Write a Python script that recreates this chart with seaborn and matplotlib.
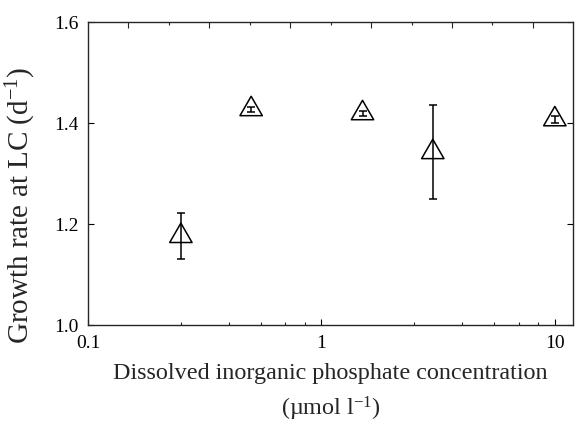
import numpy as np
import pandas as pd
import matplotlib
matplotlib.use("Agg")
import matplotlib.pyplot as plt
from matplotlib.path import Path
from matplotlib.ticker import FixedLocator, NullFormatter, NullLocator
import seaborn as sns

# Data
concentration = [0.25, 0.5, 1.5, 3.0, 10.0]
growth_rate = [1.177, 1.428, 1.420, 1.343, 1.408]
error = [0.0455, 0.005, 0.0045, 0.093, 0.0065]

x_ticks = [0.1, 1, 10]
x_tick_labels = ["0.1", "1", "10"]
x_minor = [0.25, 0.4, 0.55, 0.7, 0.85, 2.5, 4, 5.5, 7, 8.5]
y_ticks = [1.0, 1.2, 1.4, 1.6]
y_tick_labels = ["1.0", "1.2", "1.4", "1.6"]

df = pd.DataFrame({"conc": concentration, "rate": growth_rate, "err": error})

sns.set_style("ticks")
plt.rcParams["font.family"] = ["Liberation Serif", "DejaVu Serif"]
plt.rcParams["mathtext.fontset"] = "custom"
plt.rcParams["mathtext.rm"] = "Liberation Serif"
plt.rcParams["mathtext.it"] = "Liberation Serif:italic"
plt.rcParams["mathtext.default"] = "rm"

fig = plt.figure(figsize=(5.77, 4.23), dpi=100)
ax = fig.add_axes([0.1525, 0.2305, 0.9936 - 0.1525, 0.9473 - 0.2305])

# triangle marker centred on its centroid
s3 = np.sqrt(3) / 2
tri = Path([(0, 1), (-s3, -0.5), (s3, -0.5), (0, 1)],
           [Path.MOVETO, Path.LINETO, Path.LINETO, Path.CLOSEPOLY])

ax.errorbar(df["conc"], df["rate"], yerr=df["err"], fmt="none",
            ecolor="black", elinewidth=1.1, capsize=2.7, capthick=1.1, zorder=3)
sns.scatterplot(data=df, x="conc", y="rate", marker=tri, s=18.6 ** 2,
                facecolors="none", edgecolor="black", linewidth=1.1, ax=ax, zorder=4)

ax.set_xscale("log")
ax.set_xlim(0.1, 12)
ax.set_ylim(1.0, 1.6)
ax.xaxis.set_major_locator(FixedLocator(x_ticks))
ax.set_xticklabels(x_tick_labels)
ax.xaxis.set_minor_locator(FixedLocator(x_minor))
ax.xaxis.set_minor_formatter(NullFormatter())
ax.set_yticks(y_ticks)
ax.set_yticklabels(y_tick_labels)
ax.yaxis.set_minor_locator(NullLocator())

ax.tick_params(axis="both", which="major", direction="in", length=4.5, width=0.8,
               labelsize=14, colors="black", pad=7)
ax.tick_params(axis="x", which="minor", direction="in", length=2.5, width=0.8)
ax.tick_params(axis="y", which="both", right=True)
for sp in ax.spines.values():
    sp.set_visible(True)
    sp.set_linewidth(0.9)
    sp.set_color("black")

# linear top ticks
top = ax.twiny()
top.set_xlim(0, 12)
top.xaxis.set_major_locator(FixedLocator([1, 3, 5, 7, 9, 11]))
top.xaxis.set_minor_locator(FixedLocator([2, 4, 6, 8, 10]))
top.xaxis.set_major_formatter(NullFormatter())
top.tick_params(axis="x", which="major", direction="in", length=4.5, width=0.8)
top.tick_params(axis="x", which="minor", direction="in", length=2.5, width=0.8)

ax.set_xlabel("Dissolved inorganic phosphate concentration\n(µmol l$^{-1}$)",
              fontsize=17.4, labelpad=8, linespacing=1.5)
ax.set_ylabel("Growth rate at LC (d$^{-1}$)", fontsize=21)
ax.yaxis.set_label_coords(-0.102, 0.397)

fig.savefig("out.png", dpi=100)
